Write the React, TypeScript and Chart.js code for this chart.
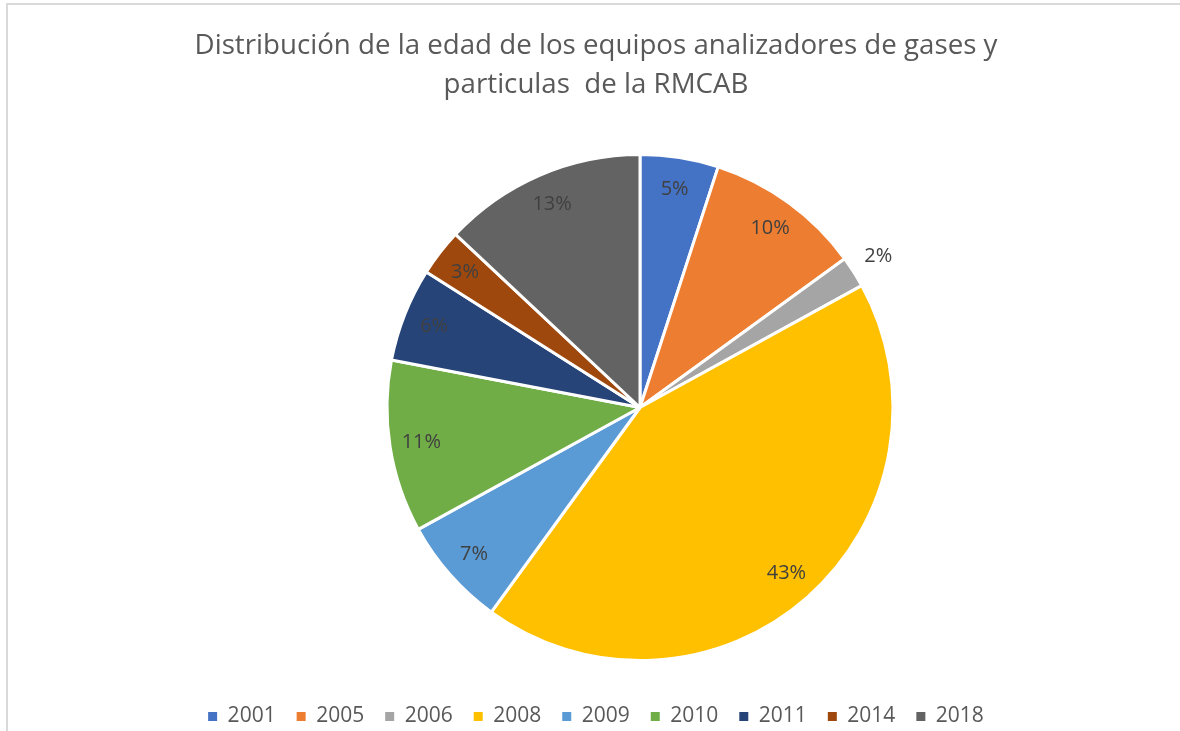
import React, { useEffect, useRef } from "react";
import { Chart, registerables } from "chart.js";

Chart.register(...registerables);

const TITLE_LINES = [
  "Distribución de la edad de los equipos analizadores de gases y",
  "particulas  de la RMCAB",
];
const YEARS = ["2001", "2005", "2006", "2008", "2009", "2010", "2011", "2014", "2018"];
const SHARES = [5, 10, 2, 43, 7, 11, 6, 3, 13];
const COLORS = [
  "#4472C4",
  "#ED7D31",
  "#A5A5A5",
  "#FFC000",
  "#5B9BD5",
  "#70AD47",
  "#264478",
  "#9E480E",
  "#636363",
];

const FONT = "'Open Sans', 'Noto Sans', sans-serif";
const CANVAS_W = 1192;
const CANVAS_H = 737;
const PIE_CX = 640;
const PIE_CY = 407.5;
const PIE_R = 253;

const placePie = {
  id: "placePie",
  afterLayout(chart: any) {
    const a = chart.chartArea;
    const half = 290;
    a.left = PIE_CX - half;
    a.right = PIE_CX + half;
    a.top = PIE_CY - half;
    a.bottom = PIE_CY + half;
    a.width = half * 2;
    a.height = half * 2;
  },
};

const pctLabels = {
  id: "pctLabels",
  afterDatasetsDraw(chart: any) {
    const ctx = chart.ctx;
    const meta = chart.getDatasetMeta(0);
    const values = chart.data.datasets[0].data as number[];
    ctx.save();
    ctx.font = `20px ${FONT}`;
    ctx.fillStyle = "#404040";
    ctx.textAlign = "center";
    ctx.textBaseline = "middle";
    meta.data.forEach((arc: any, i: number) => {
      const { x, y, startAngle, endAngle, outerRadius } = arc.getProps(
        ["x", "y", "startAngle", "endAngle", "outerRadius"],
        true
      );
      const mid = (startAngle + endAngle) / 2;
      const v = values[i];
      const r = v < 3 ? outerRadius * 1.115 : outerRadius * 0.875;
      ctx.fillText(`${v}%`, x + Math.cos(mid) * r, y + Math.sin(mid) * r);
    });
    ctx.restore();
  },
};

export default function App() {
  const ref = useRef<HTMLCanvasElement | null>(null);

  useEffect(() => {
    if (!ref.current) return;
    const baseGen = (Chart.overrides as any).doughnut.plugins.legend.labels.generateLabels;
    const chart = new Chart(ref.current, {
      type: "pie",
      data: {
        labels: YEARS,
        datasets: [
          {
            data: SHARES,
            backgroundColor: COLORS,
            borderColor: "#ffffff",
            borderWidth: 3,
            radius: PIE_R,
          } as any,
        ],
      },
      options: {
        responsive: false,
        animation: false,
        devicePixelRatio: 1,
        layout: { padding: 0 },
        plugins: {
          tooltip: { enabled: false },
          title: {
            display: true,
            text: TITLE_LINES,
            color: "#595959",
            font: { family: FONT, size: 27.7, weight: "normal", lineHeight: 1.408 },
            padding: { top: 27, bottom: 10 },
          },
          legend: {
            display: true,
            position: "bottom",
            labels: {
              color: "#595959",
              font: { family: FONT, size: 21 },
              boxWidth: 9,
              boxHeight: 9,
              padding: 21,
              generateLabels: (c: any) =>
                baseGen(c).map((l: any) => ({ ...l, lineWidth: 0, strokeStyle: "rgba(0,0,0,0)" })),
            },
          },
        },
      } as any,
      plugins: [placePie, pctLabels],
    });
    return () => chart.destroy();
  }, []);

  return (
    <div
      style={{
        position: "fixed",
        left: 0,
        top: 0,
        width: 1180,
        height: 731,
        overflow: "hidden",
        background: "#ffffff",
      }}
    >
      <div
        style={{
          position: "absolute",
          left: 6,
          top: 3,
          width: 1400,
          height: 900,
          borderLeft: "2px solid #d9d9d9",
          borderTop: "2px solid #d9d9d9",
        }}
      />
      <canvas
        ref={ref}
        width={CANVAS_W}
        height={CANVAS_H}
        style={{ position: "absolute", left: 0, top: 0, width: CANVAS_W, height: CANVAS_H }}
      />
    </div>
  );
}
